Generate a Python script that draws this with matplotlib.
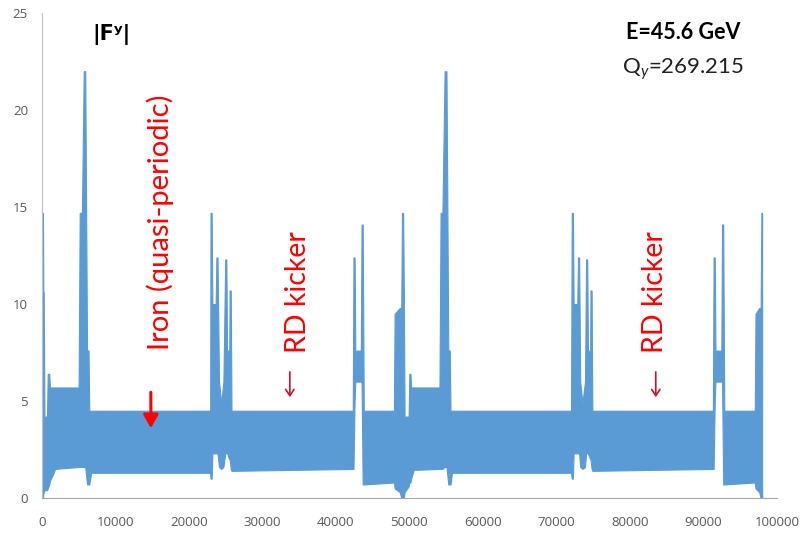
import matplotlib
matplotlib.use("Agg")
import matplotlib.pyplot as plt

# Envelope of |F^y| along the ring (upper / lower bounds of the dense oscillation)
s_pos = [0, 150, 200, 250, 350, 700, 800, 1000, 1100, 1500, 1800,
         5000, 5150, 5450, 5700, 5900, 6150, 6350, 6450, 6700,
         22900, 22950, 23100, 23200, 23650, 23750, 23900, 24100, 24400, 24700,
         24950, 25100, 25200, 25500, 25550, 25700, 25800,
         42300, 42400, 42550, 42650, 43400, 43500, 43650, 43800,
         47900, 48000, 48700, 48900, 49000, 49150, 49250, 49350, 49900,
         50000, 50150, 50250, 50600,
         54100, 54250, 54500, 54800, 55050, 55300, 55500, 55600, 55800,
         72000, 72100, 72250, 72350, 72850, 72950, 73100, 73250, 73550, 73900,
         74050, 74200, 74300, 74600, 74650, 74800, 74900,
         91300, 91400, 91550, 91650, 92450, 92550, 92700, 92850,
         97000, 97100, 97600, 97800, 97900, 98000]
upper = [14.7, 14.7, 10.6, 10.6, 4.2, 4.2, 6.4, 6.4, 5.7, 5.7, 5.7,
         5.7, 14.7, 14.7, 22.0, 22.0, 7.6, 7.6, 4.5, 4.5,
         4.5, 14.7, 14.7, 10.0, 10.0, 12.4, 12.4, 6.0, 4.9, 6.0,
         12.3, 12.3, 7.6, 7.6, 10.7, 10.7, 4.5,
         4.5, 12.4, 12.4, 7.6, 7.6, 14.1, 14.1, 4.5,
         4.5, 9.5, 9.8, 9.8, 14.7, 14.7, 10.6, 4.2, 4.2,
         6.4, 6.4, 5.7, 5.7,
         5.7, 14.7, 14.7, 22.0, 22.0, 7.6, 7.6, 4.5, 4.5,
         4.5, 14.7, 14.7, 10.0, 10.0, 12.4, 12.4, 6.0, 4.9, 6.0,
         12.3, 12.3, 7.6, 7.6, 10.7, 10.7, 4.5,
         4.5, 12.4, 12.4, 7.6, 7.6, 14.1, 14.1, 4.5,
         4.5, 9.5, 9.8, 9.8, 14.7, 14.7]
lower = [0.0, 0.0, 0.2, 0.3, 0.4, 0.4, 0.5, 0.7, 0.9, 1.2, 1.5,
         1.6, 1.6, 1.6, 1.6, 1.6, 0.7, 0.7, 0.7, 1.3,
         1.3, 1.0, 1.0, 2.3, 2.3, 2.3, 2.3, 1.6, 1.5, 1.6,
         2.3, 2.3, 2.3, 2.0, 2.0, 1.5, 1.4,
         1.5, 1.5, 5.0, 6.0, 6.0, 6.0, 0.7, 0.7,
         0.8, 0.5, 0.3, 0.0, 0.0, 0.0, 0.0, 0.3, 0.6,
         0.8, 0.8, 1.0, 1.45,
         1.5, 1.5, 1.5, 1.6, 1.6, 0.7, 0.7, 0.7, 1.3,
         1.3, 1.0, 1.0, 2.3, 2.3, 2.3, 2.3, 1.6, 1.5, 1.6,
         2.3, 2.3, 2.3, 2.0, 2.0, 1.5, 1.4,
         1.5, 1.5, 5.0, 6.0, 6.0, 6.0, 0.7, 0.7,
         0.8, 0.5, 0.3, 0.0, 0.0, 0.0]

x_ticks = [0, 10000, 20000, 30000, 40000, 50000, 60000, 70000, 80000, 90000, 100000]
y_ticks = [0, 5, 10, 15, 20, 25]

blue = "#5B9BD5"
fig = plt.figure(figsize=(8.05, 5.37), dpi=100)
ax = fig.add_axes([0.052, 0.0726, 0.913, 0.903])
ax.fill_between(s_pos, lower, upper, color=blue, linewidth=0.8, edgecolor=blue)

ax.set_xlim(0, 100000)
ax.set_ylim(0, 25)
ax.set_xticks(x_ticks)
ax.set_yticks(y_ticks)
ax.set_xticklabels([str(v) for v in x_ticks])
ax.set_yticklabels([str(v) for v in y_ticks])
ax.tick_params(length=0, colors="#595959", labelsize=9.5)
ax.tick_params(axis="x", pad=13)
ax.tick_params(axis="y", pad=10)
for lab in ax.get_xticklabels() + ax.get_yticklabels():
    lab.set_family("Open Sans")
for sp in ["top", "right"]:
    ax.spines[sp].set_visible(False)
ax.spines["left"].set_color("#BFBFBF")
ax.spines["bottom"].set_color("#A6A6A6")
ax.spines["left"].set_linewidth(0.8)
ax.spines["bottom"].set_linewidth(0.8)

plt.rcParams["mathtext.fontset"] = "custom"
plt.rcParams["mathtext.rm"] = "Lato"
plt.rcParams["mathtext.it"] = "Lato:italic"

ax.text(6940, 23.9, "|F\u02b8|", fontsize=15, fontweight="bold", family="DejaVu Sans",
        ha="left", va="center", color="black")
ax.text(87300, 24.0, "E=45.6 GeV", fontsize=15.5, fontweight="bold", family="Lato",
        ha="center", va="center", color="black")
ax.text(87300, 22.1, r"Q$_{\mathit{y}}$=269.215", fontsize=16, family="Lato",
        ha="center", va="center", color="#222222")

red = "#FF0000"
ax.text(16050, 14.2, "Iron (quasi-periodic)", rotation=90, fontsize=21, family="Lato",
        color=red, ha="center", va="center")
ax.text(34830, 10.6, "RD kicker", rotation=90, fontsize=20.5, family="Lato",
        color=red, ha="center", va="center")
ax.text(83400, 10.6, "RD kicker", rotation=90, fontsize=20.5, family="Lato",
        color=red, ha="center", va="center")

ax.annotate("", xy=(14830, 3.6), xytext=(14830, 5.45),
            arrowprops=dict(arrowstyle="-|>,head_width=0.45,head_length=0.8",
                            color=red, lw=2.2, shrinkA=0, shrinkB=0))
for xa in [33740, 83530]:
    ax.annotate("", xy=(xa, 5.2), xytext=(xa, 6.5),
                arrowprops=dict(arrowstyle="->,head_width=0.3,head_length=0.45",
                                color="#D0102A", lw=1.2, shrinkA=0, shrinkB=0))

fig.savefig("out.png", dpi=100)
